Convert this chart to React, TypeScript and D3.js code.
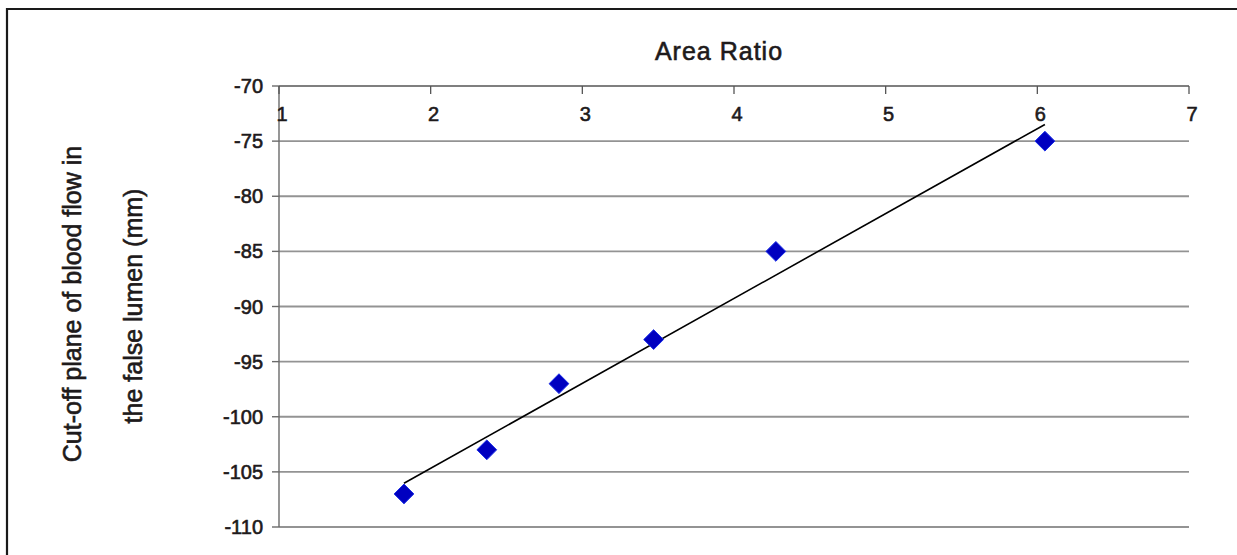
import React from "react";
import * as d3 from "d3";

const areaRatio = [1.824, 2.37, 2.846, 3.47, 4.276, 6.05];
const cutoffPlane = [-107, -103, -97, -93, -85, -75];
const xTicks = [1, 2, 3, 4, 5, 6, 7];
const yTicks = [-70, -75, -80, -85, -90, -95, -100, -105, -110];

const W = 1237;
const H = 555;
const FONT = "'Liberation Sans', Arial, Helvetica, sans-serif";
const TXT = "#1e1a1b";

export default function App() {
  const x = d3.scaleLinear().domain([1, 7]).range([279, 1189]);
  const y = d3.scaleLinear().domain([-70, -110]).range([86, 527]);

  // least-squares trend line
  const mx = d3.mean(areaRatio)!;
  const my = d3.mean(cutoffPlane)!;
  let sxy = 0, sxx = 0;
  areaRatio.forEach((v, i) => {
    sxy += (v - mx) * (cutoffPlane[i] - my);
    sxx += (v - mx) * (v - mx);
  });
  const slope = sxy / sxx;
  const icpt = my - slope * mx;
  const x0 = d3.min(areaRatio)!;
  const x1 = d3.max(areaRatio)!;
  const trend = d3.line<number>().x((d) => x(d)).y((d) => y(slope * d + icpt));

  const diamond = d3.symbol().type(d3.symbolDiamond2).size(250)()!;

  const textStyle = { stroke: TXT, strokeWidth: 0.6, fill: TXT } as const;

  return (
    <svg
      width={W}
      height={H}
      style={{ position: "absolute", left: 0, top: 0, background: "#fff" }}
      fontFamily={FONT}
    >
      {/* frame */}
      <path d={`M7,${H + 5} L7,9 L${W + 5},9`} fill="none" stroke="#1a1a1a" strokeWidth={2.2} />

      {/* title */}
      <text x={719} y={60} textAnchor="middle" fontSize={25} letterSpacing={1} {...textStyle}>
        Area Ratio
      </text>

      {/* y label */}
      <g transform="translate(81,304) rotate(-90)">
        <text x={0} y={0} textAnchor="middle" fontSize={25} {...textStyle}>
          Cut-off plane of blood flow in
        </text>
      </g>
      <g transform="translate(142,306) rotate(-90)">
        <text x={0} y={0} textAnchor="middle" fontSize={25} {...textStyle}>
          the false lumen (mm)
        </text>
      </g>

      {/* gridlines */}
      {yTicks.slice(1).map((t) => (
        <line key={t} x1={279} x2={1189} y1={y(t)} y2={y(t)} stroke="#939393" strokeWidth={1.8} />
      ))}

      {/* y axis */}
      <line x1={279} x2={279} y1={86} y2={527} stroke="#6a6a6a" strokeWidth={1.4} />
      {yTicks.map((t) => (
        <g key={t}>
          <line x1={272} x2={279} y1={y(t)} y2={y(t)} stroke="#6a6a6a" strokeWidth={1.4} />
          <text x={263} y={y(t) + 7} textAnchor="end" fontSize={20} {...textStyle}>
            {t}
          </text>
        </g>
      ))}

      {/* x axis at top */}
      <line x1={279} x2={1189} y1={86} y2={86} stroke="#555" strokeWidth={1.3} />
      {xTicks.map((t) => (
        <g key={t}>
          <line x1={x(t)} x2={x(t)} y1={86} y2={94} stroke="#555" strokeWidth={1.3} />
          <text x={x(t) + 3} y={121} textAnchor="middle" fontSize={20} {...textStyle}>
            {t}
          </text>
        </g>
      ))}

      {/* trend line */}
      <path d={trend([x0, x1])!} fill="none" stroke="#000" strokeWidth={1.6} />

      {/* points */}
      {areaRatio.map((v, i) => (
        <path
          key={i}
          d={diamond}
          transform={`translate(${x(v)},${y(cutoffPlane[i])})`}
          fill="#0000c0"
          stroke="#1a2ee6"
          strokeWidth={1}
        />
      ))}
    </svg>
  );
}
